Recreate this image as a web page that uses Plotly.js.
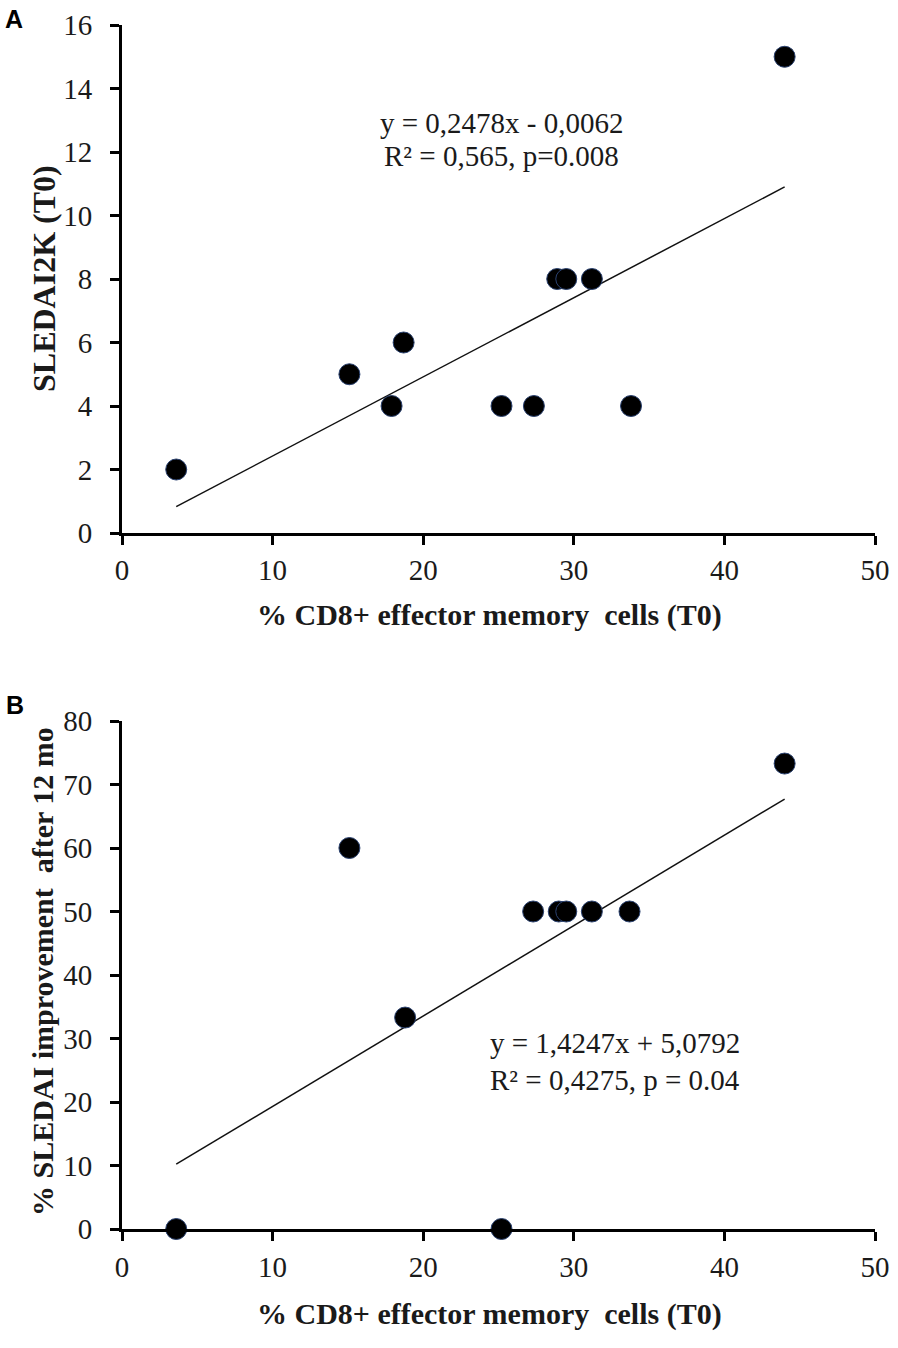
<!DOCTYPE html>
<html>
<head>
<meta charset="utf-8">
<script src="https://cdn.plot.ly/plotly-3.0.1.min.js"></script>
<style>
  html, body { margin: 0; padding: 0; background: #fff; }
  #chart { width: 898px; height: 1348px; }
</style>
</head>
<body>
<div id="chart"></div>
<script>
// Panel A: SLEDAI2K at T0 vs % CD8+ effector memory cells
const cd8A = [3.6, 15.1, 17.9, 18.7, 25.2, 27.35, 28.9, 29.5, 31.2, 33.8, 44.0];
const sledaiA = [2, 5, 4, 6, 4, 4, 8, 8, 8, 4, 15];
const trendAx = [3.6, 44.0];
const trendAy = [0.83, 10.9];

// Panel B: % SLEDAI improvement after 12 months
const cd8B = [3.6, 15.1, 18.8, 25.2, 27.3, 29.0, 29.5, 31.2, 33.7, 44.0];
const improveB = [0, 60, 33.3, 0, 50, 50, 50, 50, 50, 73.3];
const trendBx = [3.6, 44.0];
const trendBy = [10.2, 67.7];

const xTicks = [0, 10, 20, 30, 40, 50];
const yTicksA = [0, 2, 4, 6, 8, 10, 12, 14, 16];
const yTicksB = [0, 10, 20, 30, 40, 50, 60, 70, 80];

const W = 898, H = 1348;
const px = (x) => x / W;
const py = (y) => 1 - y / H;

const serif = 'Liberation Serif, Times New Roman, serif';
const ink = '#1a1a1a';

const marker = { size: 21, color: '#000', line: { color: '#2b4270', width: 1 } };

const data = [
  { x: trendAx, y: trendAy, xaxis: 'x', yaxis: 'y', mode: 'lines',
    line: { color: '#111', width: 1.5 }, hoverinfo: 'skip' },
  { x: cd8A, y: sledaiA, xaxis: 'x', yaxis: 'y', mode: 'markers',
    marker, cliponaxis: false },
  { x: trendBx, y: trendBy, xaxis: 'x2', yaxis: 'y2', mode: 'lines',
    line: { color: '#111', width: 1.5 }, hoverinfo: 'skip' },
  { x: cd8B, y: improveB, xaxis: 'x2', yaxis: 'y2', mode: 'markers',
    marker, cliponaxis: false }
];

function axis(extra) {
  return Object.assign({
    showline: true, linecolor: '#000', linewidth: 3,
    ticks: 'outside', ticklen: 9, tickwidth: 3, tickcolor: '#000',
    showgrid: false, zeroline: false, fixedrange: true,
    tickfont: { family: serif, size: 29, color: ink }
  }, extra);
}

// annotation placed by its centre, in reference pixels
function label(text, x, y, size, extra) {
  return Object.assign({
    text, x: px(x), y: py(y), xref: 'paper', yref: 'paper',
    xanchor: 'center', yanchor: 'middle', showarrow: false,
    font: { family: serif, size, color: ink }
  }, extra);
}

const sans = { family: 'Liberation Sans, Arial, sans-serif', size: 25, color: '#000', weight: 'bold' };

const layout = {
  width: W, height: H,
  margin: { l: 0, r: 0, t: 0, b: 0 },
  paper_bgcolor: '#fff', plot_bgcolor: '#fff',
  showlegend: false,
  xaxis: axis({ domain: [px(122), px(875)], range: [0, 50], tickvals: xTicks,
    anchor: 'y', ticklabelstandoff: 0 }),
  yaxis: axis({ domain: [py(533), py(25)], range: [0, 16], tickvals: yTicksA,
    anchor: 'x', ticklabelstandoff: 12 }),
  xaxis2: axis({ domain: [px(122), px(875)], range: [0, 50], tickvals: xTicks,
    anchor: 'y2', ticklabelstandoff: 1 }),
  yaxis2: axis({ domain: [py(1229), py(721)], range: [0, 80], tickvals: yTicksB,
    anchor: 'x2', ticklabelstandoff: 12 }),
  annotations: [
    label('A', 14, 19, 25, { font: sans }),
    label('B', 15, 705, 25, { font: sans }),
    label('<b>% CD8+ effector memory  cells (T0)</b>', 490, 615, 30),
    label('<b>% CD8+ effector memory  cells (T0)</b>', 490, 1314, 30),
    label('<b>SLEDAI2K (T0)</b>', 44, 279, 32, { textangle: -90 }),
    label('<b>% SLEDAI improvement  after 12 mo</b>', 42, 972, 30, { textangle: -90 }),
    label('y = 0,2478x - 0,0062', 502, 123, 29),
    label('R² = 0,565, p=0.008', 502, 156, 29),
    label('y = 1,4247x + 5,0792', 488, 1043, 29, { xanchor: 'left' }),
    label('R² = 0,4275, p = 0.04', 488, 1080, 29, { xanchor: 'left' })
  ]
};

Plotly.newPlot('chart', data, layout, { displayModeBar: false, staticPlot: true });
</script>
</body>
</html>
